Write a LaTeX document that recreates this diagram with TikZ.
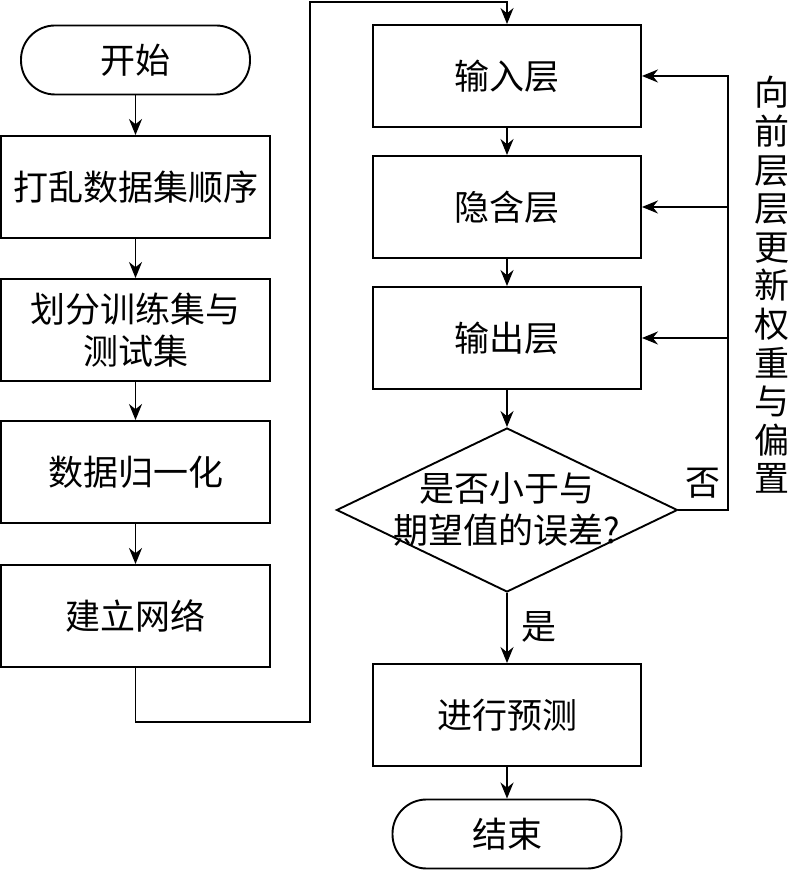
\documentclass[tikz,border=0pt]{standalone}
\usepackage{fontspec}
\setmainfont{Noto Sans CJK SC}
\usetikzlibrary{shapes.geometric,arrows.meta}
\begin{document}
\begin{tikzpicture}[x=0.5pt, y=0.5pt, line width=0.95pt, font=\fontsize{17.5pt}{21pt}\selectfont]
    % Styles
    \tikzstyle{block} = [rectangle, draw, minimum width=134.5pt, minimum height=51pt, align=center, inner sep=0pt]
    \tikzstyle{terminal} = [rectangle, draw, rounded corners=17pt, minimum width=114.5pt, minimum height=34.5pt]
    \tikzstyle{decision} = [diamond, draw, minimum width=170.5pt, minimum height=82pt, inner sep=0pt]
    \tikzstyle{arrow} = [-{Stealth[length=8pt, width=6.5pt]}]

    \useasboundingbox (0,0) rectangle (789,870);

    % Nodes
    \node [terminal] (start) at (135.5,810) {开始};
    \node [block, below of=start, node distance=63.5pt] (shuffle) {打乱数据集顺序};
    \node [block, below of=shuffle, node distance=71.5pt] (split) {划分训练集与\\测试集};
    \node [block, below of=split, node distance=71pt] (norm) {数据归一化};
    \node [block, below of=norm, node distance=72pt] (net) {建立网络};

    \node [block, minimum width=134pt] (input) at (507,794) {输入层};
    \node [block, minimum width=134pt, below of=input, node distance=65.5pt] (hidden) {隐含层};
    \node [block, minimum width=134pt, below of=hidden, node distance=65.5pt] (output) {输出层};
    \node [decision, below of=output, node distance=86pt, label={[align=center]center:是否小于与\\期望值的误差?}] (judge) {};
    \node [block, minimum width=134pt, below of=judge, node distance=102.5pt] (predict) {进行预测};
    \node [terminal, below of=predict, node distance=59.5pt] (finish) {结束};

    \coordinate (low) at (310,148);
    \coordinate (high) at (310,868);
    \coordinate (fb) at (728,794);

    % Arrows
    \draw [arrow] (start) -- (shuffle);
    \draw [arrow] (shuffle) -- (split);
    \draw [arrow] (split) -- (norm);
    \draw [arrow] (norm) -- (net);
    \draw [arrow] (net.south) |- (low) -- (high) -| (input.north);
    \draw [arrow] (input) -- (hidden);
    \draw [arrow] (hidden) -- (output);
    \draw [arrow] (output) -- (judge);
    \draw [arrow] (judge) -- (predict);
    \draw [arrow] (predict) -- (finish);
    \draw [arrow] (judge.east) -| (fb) -- (input.east);
    \draw [arrow] (fb |- hidden.east) -- (hidden.east);
    \draw [arrow] (fb |- output.east) -- (output.east);

    % Labels
    \node (no) at (703,387) {否};
    \node (yes) at (539,243) {是};
    \node [align=center, font=\fontsize{17.5pt}{19.3pt}\selectfont] (note) at (772,585) {向\\前\\层\\层\\更\\新\\权\\重\\与\\偏\\置};
\end{tikzpicture}
\end{document}
